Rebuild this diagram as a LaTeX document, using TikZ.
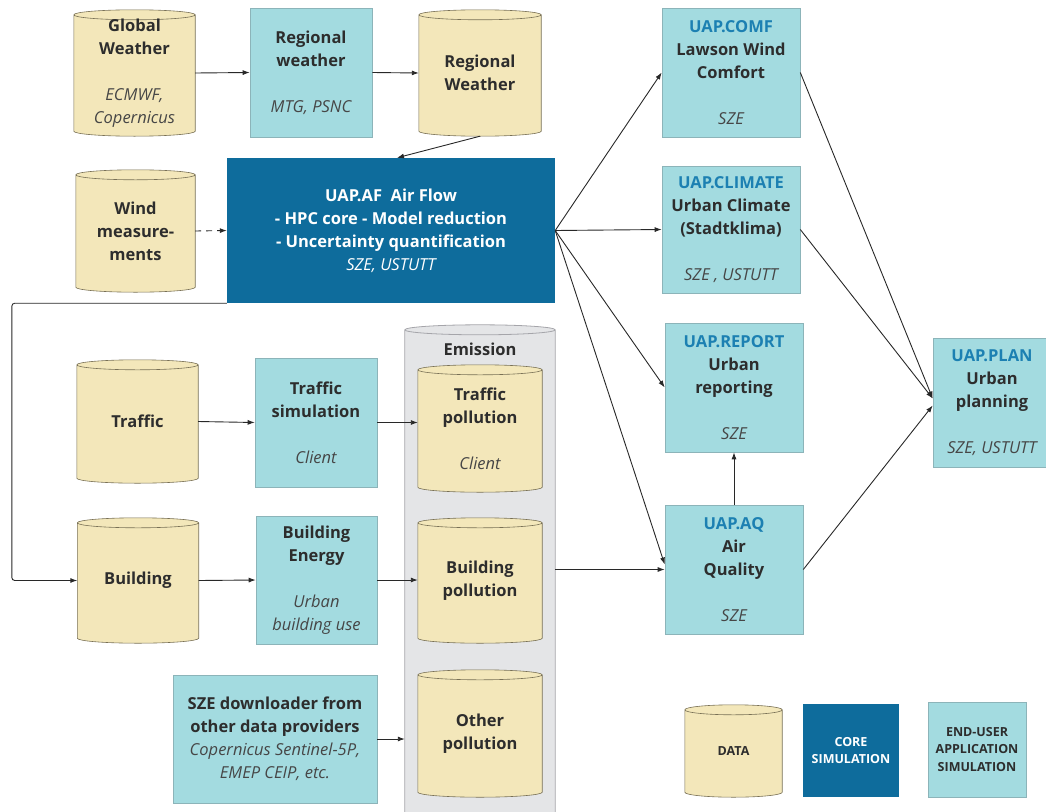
\documentclass[tikz,border=0pt]{standalone}
\usepackage{fontspec}
\setmainfont{Open Sans}
\usetikzlibrary{arrows.meta,backgrounds,positioning,calc}
\definecolor{datafill}{RGB}{243,231,186}
\definecolor{dataedge}{RGB}{120,112,85}
\definecolor{appfill}{RGB}{163,219,224}
\definecolor{appedge}{RGB}{140,180,185}
\definecolor{corefill}{RGB}{14,108,156}
\definecolor{uapblue}{RGB}{28,128,178}
\definecolor{grpfill}{RGB}{228,229,231}
\definecolor{grpedge}{RGB}{165,165,170}
\definecolor{txtdark}{RGB}{45,45,45}
\definecolor{txtsub}{RGB}{70,70,70}
\definecolor{linecol}{RGB}{40,40,40}

\newcommand{\uap}[1]{{\color{uapblue}#1}}
\newcommand{\who}[1]{{\mdseries\itshape\color{txtsub}#1}}
% cylinder outline behind a node: node name, style
\newcommand{\datadrum}[2]{%
  \path[#2] let \p1=(#1.north west), \p2=(#1.north east), \n1={(\x2-\x1)/2} in
    ([yshift=-5pt]#1.north west) -- ([yshift=5pt]#1.south west)
    arc[start angle=180, end angle=360, x radius=\n1, y radius=5pt]
    -- ([yshift=-5pt]#1.north east)
    arc[start angle=0, end angle=180, x radius=\n1, y radius=5pt] -- cycle
    ([yshift=-5pt]#1.north west)
    arc[start angle=180, end angle=360, x radius=\n1, y radius=5pt];}

\begin{document}
\begin{tikzpicture}[x=1pt, y=-1pt,
    base/.style={rectangle, inner sep=0pt, align=center, text=txtdark,
        font=\fontsize{16.5}{23}\selectfont\bfseries},
    data/.style={base, minimum width=121pt, minimum height=126pt},
    app/.style={base, draw=appedge, fill=appfill, line width=0.6pt,
        minimum width=122pt, minimum height=129pt},
    core/.style={base, fill=corefill, text=white},
    grp/.style={rectangle, minimum width=150pt, minimum height=540pt},
    key/.style={font=\fontsize{12.5}{17.5}\selectfont\bfseries},
    datacan/.style={draw=dataedge, fill=datafill, line width=0.6pt},
    grpcan/.style={draw=grpedge, fill=grpfill, line width=0.8pt},
    flow/.style={draw=linecol, line width=0.9pt, -{Latex[length=7pt, width=5pt]}}
]
    \useasboundingbox (0,0) rectangle (1046,811);

    % Weather inputs
    \node[data] (glob) at (134.5,73) {Global\\Weather\\[23pt]\who{ECMWF,}\\\who{Copernicus}};
    \node[app] (regbox) at (311,72.5) {Regional\\weather\\[23pt]\who{MTG, PSNC}};
    \node[data, minimum width=122pt] (regw) at (480,73) {Regional\\Weather};
    \node[data, minimum width=119pt, minimum height=122pt] (wind) at (135.5,231) {Wind\\measure-\\ments};
    \node[core, minimum width=328pt, minimum height=145pt] (af) at (391,230.5)
        {UAP.AF\ \ Air Flow\\- HPC core - Model reduction\\- Uncertainty quantification\\{\mdseries\itshape SZE, USTUTT}};

    % Emission sources
    \node[data, minimum height=123pt] (traf) at (137.5,421.5) {Traffic};
    \node[app] (trafsim) at (316,422.5) {Traffic\\simulation\\[23pt]\who{Client}};
    \node[data, minimum height=125pt] (bld) at (138,580.5) {Building};
    \node[app, minimum width=121pt, minimum height=128pt] (bldenergy) at (316.5,580)
        {Building\\Energy\\[23pt]\who{Urban}\\\who{building use}};
    \node[app, minimum width=204pt, minimum height=128pt] (sze) at (275,739)
        {SZE downloader from\\other data providers\\\who{Copernicus Sentinel-5P,}\\\who{EMEP CEIP, etc.}};

    % Emission group
    \node[grp] (emis) at (480,595) {};
    \node[base] (emislbl) at (480,349) {Emission};
    \node[data, minimum width=124pt, minimum height=127pt] (trafpol) at (480,428.5) {Traffic\\pollution\\[23pt]\who{Client}};
    \node[data, minimum width=124pt, minimum height=125pt] (bldpol) at (480,580.5) {Building\\pollution};
    \node[data, minimum width=124pt, minimum height=127pt] (othpol) at (480,733.5) {Other\\pollution};

    % Applications
    \node[app, minimum width=138pt] (comf) at (731,72.5) {\uap{UAP.COMF}\\Lawson Wind\\Comfort\\[23pt]\who{SZE}};
    \node[app, minimum width=138pt, minimum height=127pt] (clim) at (731,229.5)
        {\uap{UAP.CLIMATE}\\Urban Climate\\(Stadtklima)\\[23pt]\who{SZE , USTUTT}};
    \node[app, minimum width=138pt] (report) at (734,387.5) {\uap{UAP.REPORT}\\Urban\\reporting\\[23pt]\who{SZE}};
    \node[app, minimum width=138pt] (aq) at (734,569.5) {\uap{UAP.AQ}\\Air\\Quality\\[23pt]\who{SZE}};
    \node[app, minimum width=118pt] (plan) at (992,402.5) {\uap{UAP.PLAN}\\Urban\\planning\\[23pt]\who{SZE, USTUTT}};

    % Legend
    \node[data, key, minimum width=97pt, minimum height=92pt] (keydata) at (733.5,751) {DATA};
    \node[core, key, minimum width=96pt, minimum height=93pt] (keycore) at (851,750.5) {CORE\\SIMULATION};
    \node[app, key, minimum width=98pt, minimum height=95pt] (keyapp) at (977,749.5) {END-USER\\APPLICATION\\SIMULATION};

    % Cylinder bodies behind the texts
    \begin{scope}[on background layer]
        \datadrum{emis}{grpcan}
        \foreach \c in {glob, regw, wind, traf, bld, trafpol, bldpol, othpol, keydata} {
            \datadrum{\c}{datacan}
        }
    \end{scope}

    % Connections
    \draw[flow] (glob.east) -- (regbox.west);
    \draw[flow] (regbox.east) -- (regw.west);
    \draw[flow] (regw.south) -- ([xshift=6pt]af.north);
    \draw[flow, dash pattern=on 6pt off 5pt] (wind.east) -- (af.west);
    \draw[flow, rounded corners=3pt] (af.south west) -- ++(-215pt,0pt) |- (bld.west);
    \draw[flow] (traf.east) -- (trafsim.west);
    \draw[flow] (trafsim.east) -- (trafsim.east -| trafpol.west);
    \draw[flow] (bld.east) -- (bldenergy.west);
    \draw[flow] (bldenergy.east) -- (bldenergy.east -| bldpol.west);
    \draw[flow] (sze.east) -- (sze.east -| emis.west);
    \draw[flow] (aq.west -| emis.east) -- (aq.west);
    \foreach \t in {comf, clim, report} {
        \draw[flow] (af.east) -- (\t.west);
    }
    \draw[flow] (af.east) -- ([yshift=5pt]aq.west);
    \draw[flow] (aq.north) -- (report.south);
    \foreach \s in {comf, clim} {
        \draw[flow] (\s.east) -- ([yshift=4pt]plan.west);
    }
    \draw[flow] (aq.east) -- ([yshift=-3pt]plan.west);
\end{tikzpicture}
\end{document}
